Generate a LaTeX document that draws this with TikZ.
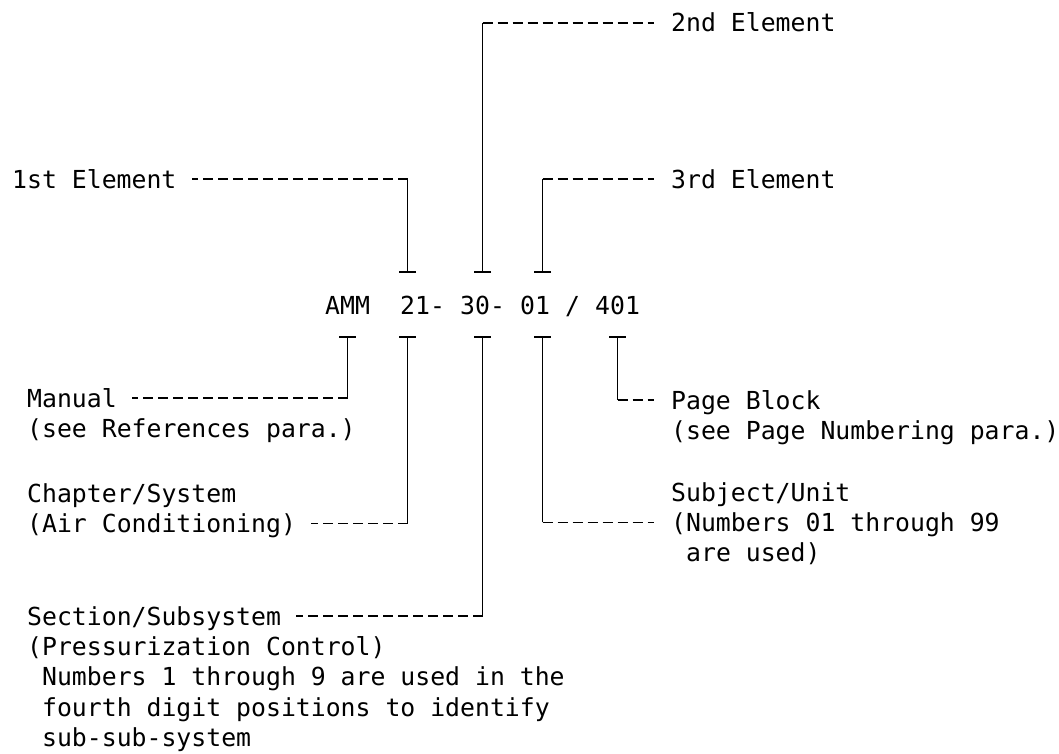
\documentclass[tikz,border=0pt]{standalone}
\usepackage{fontspec}
\setmonofont{DejaVu Sans Mono}
\usetikzlibrary{positioning, arrows.meta, calc}

\begin{document}
\begin{tikzpicture}[
    x=1pt, y=-1pt,
    lbl/.style={font=\ttfamily\fontsize{24.8}{30}\selectfont, inner sep=0pt, text height=18pt, text depth=0pt, anchor=west},
    cont/.style={lbl, below=12pt of #1.south west, anchor=north west},
    dashes/.style={line width=1.7pt, dash pattern=on 10pt off 5pt},
    stem/.style={line width=1.7pt, -{Bar[width=17pt]}}
]
    \useasboundingbox (0,0) rectangle (1059,754);

    % element labels above the number
    \node[lbl] (second) at (671,23) {2nd Element};
    \node[lbl] (first) at (12,179) {1st Element};
    \node[lbl] (third) at (671,179) {3rd Element};

    % the number itself
    \node[lbl] (amm) at (325,305) {AMM};
    \node[lbl] (chap) at (400,305) {21-};
    \node[lbl] (sect) at (460,305) {30-};
    \node[lbl] (subj) at (520,305) {01};
    \node[lbl] (slash) at (565,305) {/};
    \node[lbl] (page) at (595,305) {401};

    % descriptions below
    \node[lbl] (manual) at (27,398) {Manual};
    \node[cont=manual] (manualref) {(see References para.)};
    \node[lbl] (chapter) at (27,493) {Chapter/System};
    \node[cont=chapter] (chaptername) {(Air Conditioning)};
    \node[lbl] (section) at (27,616) {Section/Subsystem};
    \node[cont=section] (sectionname) {(Pressurization Control)};
    \node[cont=sectionname] (sectnote1) {\ Numbers 1 through 9 are used in the};
    \node[cont=sectnote1] (sectnote2) {\ fourth digit positions to identify};
    \node[cont=sectnote2] (sectnote3) {\ sub-sub-system};
    \node[lbl] (pageblock) at (671,400) {Page Block};
    \node[cont=pageblock] (pageref) {(see Page Numbering para.)};
    \node[lbl] (subject) at (671,492) {Subject/Unit};
    \node[cont=subject] (subjrange) {(Numbers 01 through 99};
    \node[cont=subjrange] (subjused) {\ are used)};

    % bar ends of the stems
    \coordinate (chapup) at ([xshift=-15pt, yshift=23pt]chap.north);
    \coordinate (sectup) at ([yshift=23pt]sect.north);
    \coordinate (subjup) at ([xshift=7.5pt, yshift=23pt]subj.north);
    \coordinate (ammdn) at ([yshift=-22pt]amm.south);
    \coordinate (chapdn) at ([xshift=-15pt, yshift=-22pt]chap.south);
    \coordinate (sectdn) at ([yshift=-22pt]sect.south);
    \coordinate (subjdn) at ([xshift=7.5pt, yshift=-22pt]subj.south);
    \coordinate (pagedn) at ([yshift=-22pt]page.south);

    % leaders above
    \draw[dashes] (first.east -| chapup) -- ([xshift=15pt]first.east);
    \draw[stem] (first.east -| chapup) -- (chapup);
    \draw[dashes] (second.west -| sectup) -- ([xshift=-17pt]second.west);
    \draw[stem] (second.west -| sectup) -- (sectup);
    \draw[dashes] (third.west -| subjup) -- ([xshift=-17pt]third.west);
    \draw[stem] (third.west -| subjup) -- (subjup);

    % leaders below
    \draw[dashes] (manual.east -| ammdn) -- ([xshift=15pt]manual.east);
    \draw[stem] (manual.east -| ammdn) -- (ammdn);
    \draw[dashes] (chaptername.east -| chapdn) -- ([xshift=15pt]chaptername.east);
    \draw[stem] (chaptername.east -| chapdn) -- (chapdn);
    \draw[dashes] (section.east -| sectdn) -- ([xshift=15pt]section.east);
    \draw[stem] (section.east -| sectdn) -- (sectdn);
    \draw[dashes] (subjrange.west -| subjdn) -- ([xshift=-17pt]subjrange.west);
    \draw[stem] (subjrange.west -| subjdn) -- (subjdn);
    \draw[dashes] (pageblock.west -| pagedn) -- ([xshift=-17pt]pageblock.west);
    \draw[stem] (pageblock.west -| pagedn) -- (pagedn);
\end{tikzpicture}
\end{document}
